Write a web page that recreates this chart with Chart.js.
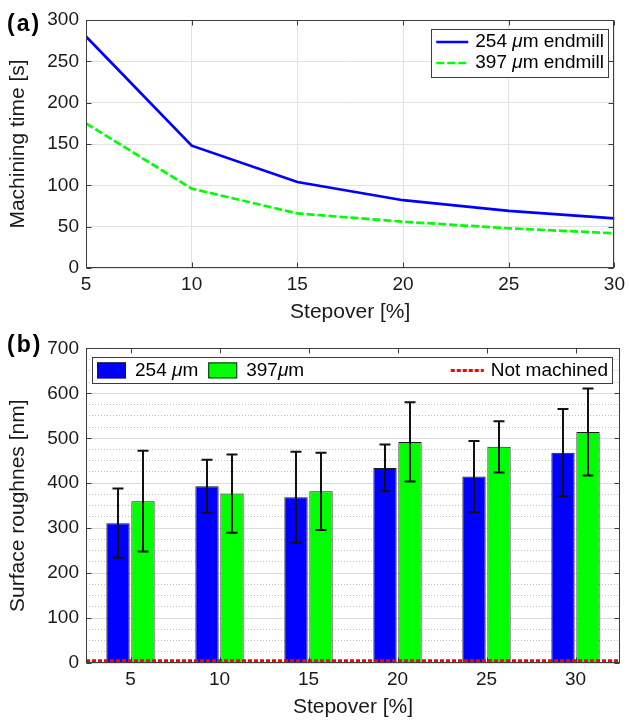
<!DOCTYPE html>
<html><head><meta charset="utf-8">
<script src="https://cdn.jsdelivr.net/npm/chart.js@4.4.1/dist/chart.umd.min.js"></script>
<style>
html,body{margin:0;padding:0;background:#fff;}
body{width:630px;height:720px;position:relative;overflow:hidden;font-family:"Liberation Sans",Arial,sans-serif;}
#wa{position:absolute;left:0;top:0;width:630px;height:330px;}
#wb{position:absolute;left:0;top:330px;width:630px;height:390px;}
.pl{position:absolute;font-weight:bold;font-size:23px;line-height:26px;letter-spacing:2px;color:#000;}
</style></head><body>
<div id="wa"><canvas id="ca" width="630" height="330"></canvas></div>
<div id="wb"><canvas id="cb" width="630" height="390"></canvas></div>
<div class="pl" style="left:7px;top:10px">(a)</div>
<div class="pl" style="left:7px;top:331px">(b)</div>
<script>
// ---- data ----
const stepover = [5, 10, 15, 20, 25, 30];
const time254 = [280, 148, 104, 82, 69, 60];
const time397 = [175, 96, 66, 56, 48, 42];
const timeTicks = [0, 50, 100, 150, 200, 250, 300];

const stepLabels = ['5', '10', '15', '20', '25', '30'];
const rough254 = [311, 393, 369, 434, 415, 468];
const err254 = [77, 59, 101, 52, 79, 97];
const rough397 = [360, 377, 382, 492, 481, 514];
const err397 = [112, 87, 86, 88, 57, 97];
const roughTicks = [0, 100, 200, 300, 400, 500, 600, 700];
const notMachined = 5;

// ---- styles ----
const FONT = '"Liberation Sans", Arial, sans-serif';
const TXT = '#1a1a1a';
const AXIS = '#3c3c3c';
const BLUE = '#0000ff';
const GREEN = '#00ff00';
Chart.defaults.font.family = FONT;
Chart.defaults.color = TXT;

function drawFrame(chart, xPx, yPx) {
  const {ctx, chartArea: a} = chart;
  ctx.save();
  ctx.strokeStyle = AXIS; ctx.lineWidth = 1; ctx.setLineDash([]);
  const L = Math.round(a.left) + 0.5, R = Math.round(a.right) - 0.5;
  const T = Math.round(a.top) + 0.5, B = Math.round(a.bottom) - 0.5;
  ctx.strokeRect(L, T, R - L, B - T);
  ctx.beginPath();
  xPx.forEach(px => { const x = Math.round(px) + 0.5; ctx.moveTo(x, B); ctx.lineTo(x, B - 5); ctx.moveTo(x, T); ctx.lineTo(x, T + 5); });
  yPx.forEach(py => { const y = Math.round(py) + 0.5; ctx.moveTo(L, y); ctx.lineTo(L + 5, y); ctx.moveTo(R, y); ctx.lineTo(R - 5, y); });
  ctx.stroke();
  ctx.restore();
}
function richParts(label) {
  const parts = [];
  label.split('μ').forEach((s, i) => { if (i > 0) parts.push(['μ', true]); if (s) parts.push([s, false]); });
  return parts;
}
function richWidth(ctx, parts, size) {
  let w = 0;
  parts.forEach(([t, it]) => { ctx.font = (it ? 'italic ' : '') + size + 'px ' + FONT; w += ctx.measureText(t).width; });
  return w;
}
function drawRich(ctx, parts, x, y, size) {
  let cx = x;
  ctx.textBaseline = 'middle'; ctx.textAlign = 'left'; ctx.fillStyle = '#000';
  parts.forEach(([t, it]) => { ctx.font = (it ? 'italic ' : '') + size + 'px ' + FONT; ctx.fillText(t, cx, y); cx += ctx.measureText(t).width; });
  return cx;
}

// ---- chart (a) ----
const pluginA = {
  id: 'extrasA',
  afterDatasetsDraw(chart) {
    const xs = chart.scales.x, ys = chart.scales.y;
    drawFrame(chart, stepover.map(v => xs.getPixelForValue(v)), timeTicks.map(v => ys.getPixelForValue(v)));
    // legend
    const {ctx, chartArea: a} = chart;
    const size = 19;
    const ds = chart.data.datasets;
    const partsList = ds.map(d => richParts(d.label));
    const tw = Math.max(...partsList.map(p => richWidth(ctx, p, size)));
    const right = a.right - 6.5, top = a.top + 9;
    const w = tw + 48, h = 48;
    const left = right - w;
    ctx.save();
    ctx.fillStyle = '#fff';
    ctx.fillRect(left, top, w, h);
    ctx.strokeStyle = AXIS; ctx.lineWidth = 1;
    ctx.strokeRect(Math.round(left) + 0.5, Math.round(top) + 0.5, Math.round(w), Math.round(h));
    ds.forEach((d, i) => {
      const y = top + 13 + i * 21;
      ctx.beginPath();
      ctx.strokeStyle = d.borderColor; ctx.lineWidth = d.borderWidth;
      ctx.setLineDash(d.borderDash || []);
      ctx.moveTo(left + 5, y); ctx.lineTo(left + 37, y); ctx.stroke();
      ctx.setLineDash([]);
      drawRich(ctx, partsList[i], left + 44, y, size);
    });
    ctx.restore();
  }
};

new Chart(document.getElementById('ca'), {
  type: 'line',
  data: {
    datasets: [
      {label: '254 μm endmill', data: stepover.map((x, i) => ({x, y: time254[i]})), borderColor: BLUE, borderWidth: 2.7, pointRadius: 0, tension: 0, fill: false},
      {label: '397 μm endmill', data: stepover.map((x, i) => ({x, y: time397[i]})), borderColor: GREEN, borderWidth: 2.7, borderDash: [8, 3], pointRadius: 0, tension: 0, fill: false}
    ]
  },
  options: {
    responsive: false, animation: false, devicePixelRatio: 1,
    layout: {padding: {left: 0, right: 10, top: 20, bottom: 0}},
    plugins: {legend: {display: false}, tooltip: {enabled: false}},
    scales: {
      x: {
        type: 'linear', min: 5, max: 30,
        afterBuildTicks: s => { s.ticks = stepover.map(v => ({value: v})); },
        ticks: {padding: 5, font: {size: 19}, color: TXT},
        grid: {color: '#e2e2e2', drawTicks: false},
        border: {display: false},
        title: {display: true, text: 'Stepover [%]', font: {size: 21}, color: TXT, padding: {top: 0, bottom: 5}},
        afterFit: s => { s.height = 62; }
      },
      y: {
        min: 0, max: 300,
        afterBuildTicks: s => { s.ticks = timeTicks.map(v => ({value: v})); },
        ticks: {padding: 7, font: {size: 19}, color: TXT},
        grid: {color: '#e2e2e2', drawTicks: false},
        border: {display: false},
        title: {display: true, text: 'Machining time [s]', font: {size: 21}, color: TXT, padding: {top: 6, bottom: 0}},
        afterFit: s => { s.width = 86; }
      }
    }
  },
  plugins: [pluginA]
});

// ---- chart (b) ----
const pluginB = {
  id: 'extrasB',
  afterDatasetsDraw(chart) {
    const {ctx, chartArea: a} = chart;
    const xs = chart.scales.x, ys = chart.scales.y;
    // error bars
    ctx.save();
    ctx.strokeStyle = '#111'; ctx.lineWidth = 2; ctx.setLineDash([]);
    chart.data.datasets.forEach((d, di) => {
      const meta = chart.getDatasetMeta(di);
      meta.data.forEach((el, i) => {
        const v = d.data[i], e = d.errors[i];
        const yt = ys.getPixelForValue(v + e), yb = ys.getPixelForValue(v - e);
        const x = el.x, c = 5.5;
        ctx.beginPath();
        ctx.moveTo(x, yt); ctx.lineTo(x, yb);
        ctx.moveTo(x - c, yt); ctx.lineTo(x + c, yt);
        ctx.moveTo(x - c, yb); ctx.lineTo(x + c, yb);
        ctx.stroke();
      });
    });
    // not machined line
    const yr = ys.getPixelForValue(notMachined);
    ctx.beginPath();
    ctx.strokeStyle = '#ff0000'; ctx.lineWidth = 3; ctx.setLineDash([4, 2]);
    ctx.moveTo(a.left, yr); ctx.lineTo(a.right, yr); ctx.stroke();
    ctx.restore();

    drawFrame(chart, stepLabels.map((_, i) => xs.getPixelForTick(i)), roughTicks.map(v => ys.getPixelForValue(v)));

    // legend
    const size = 19;
    const left = a.left + 6, right = a.right - 8, top = a.top + 9, h = 26;
    ctx.save();
    ctx.fillStyle = '#fff';
    ctx.fillRect(left, top, right - left, h);
    ctx.strokeStyle = AXIS; ctx.lineWidth = 1; ctx.setLineDash([]);
    ctx.strokeRect(Math.round(left) + 0.5, Math.round(top) + 0.5, Math.round(right - left), h);
    const cy = top + 13;
    let x = left + 5;
    chart.data.datasets.forEach(d => {
      ctx.fillStyle = d.backgroundColor;
      ctx.fillRect(x, top + 5, 29, 16);
      ctx.strokeStyle = '#1a1a1a'; ctx.lineWidth = 1;
      ctx.strokeRect(x + 0.5, top + 5.5, 28, 15);
      const end = drawRich(ctx, richParts(d.label), x + 38, cy, size);
      x = end + 10;
    });
    const nm = 'Not machined';
    ctx.font = size + 'px ' + FONT;
    const nw = ctx.measureText(nm).width;
    const tx = right - 4 - nw;
    ctx.fillStyle = '#000'; ctx.textBaseline = 'middle'; ctx.textAlign = 'left';
    ctx.fillText(nm, tx, cy);
    ctx.beginPath();
    ctx.strokeStyle = '#ff0000'; ctx.lineWidth = 3; ctx.setLineDash([4, 2]);
    ctx.moveTo(tx - 40, cy); ctx.lineTo(tx - 7, cy); ctx.stroke();
    ctx.restore();
  }
};

new Chart(document.getElementById('cb'), {
  type: 'bar',
  data: {
    labels: stepLabels,
    datasets: [
      {label: '254 μm', data: rough254, errors: err254, backgroundColor: BLUE, borderColor: '#1a1a1a', borderWidth: 1},
      {label: '397μm', data: rough397, errors: err397, backgroundColor: GREEN, borderColor: '#1a1a1a', borderWidth: 1}
    ]
  },
  options: {
    responsive: false, animation: false, devicePixelRatio: 1,
    layout: {padding: {left: 0, right: 10, top: 14, bottom: 0}},
    datasets: {bar: {categoryPercentage: 0.562, barPercentage: 0.932}},
    plugins: {legend: {display: false}, tooltip: {enabled: false}},
    scales: {
      x: {
        ticks: {padding: 5, font: {size: 19}, color: TXT},
        grid: {display: false, drawTicks: false},
        border: {display: false},
        title: {display: true, text: 'Stepover [%]', font: {size: 21}, color: TXT, padding: {top: 0, bottom: 0}},
        afterFit: s => { s.height = 57; }
      },
      y: {
        min: 0, max: 700,
        afterBuildTicks: s => { s.ticks = roughTicks.map(v => ({value: v})); },
        ticks: {padding: 7, font: {size: 19}, color: TXT},
        grid: {color: '#dcdcdc', drawTicks: false},
        border: {display: false},
        title: {display: true, text: 'Surface roughnes [nm]', font: {size: 21}, color: TXT, padding: {top: 6, bottom: 0}},
        afterFit: s => { s.width = 86; }
      },
      yMinor: {
        position: 'left', min: 0, max: 700,
        ticks: {display: false, stepSize: 25},
        grid: {color: c => (c.tick && c.tick.value % 100 === 0) ? 'rgba(0,0,0,0)' : '#c2c2c2', drawTicks: false},
        border: {display: false, dash: [1, 2]},
        afterFit: s => { s.width = 0; }
      }
    }
  },
  plugins: [pluginB]
});
</script>
</body></html>
